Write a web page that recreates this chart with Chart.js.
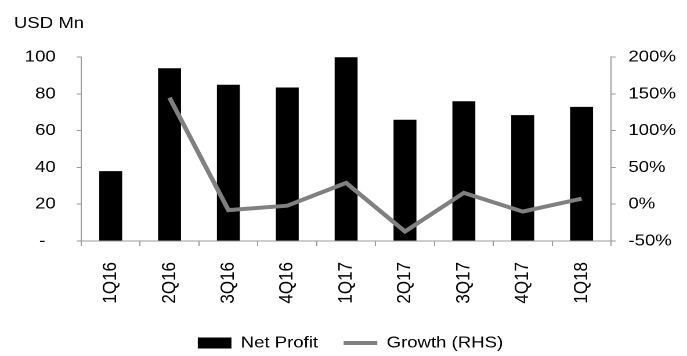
<!DOCTYPE html>
<html>
<head>
<meta charset="utf-8">
<script src="https://cdn.jsdelivr.net/npm/chart.js"></script>
<style>
  html, body { margin: 0; padding: 0; background: #fff; overflow: hidden; }
  /* chart is drawn narrow and widened to the page, which gives the wide lettering */
  #profitChart { display: block; transform: scaleX(1.16047); transform-origin: 0 0; }
</style>
</head>
<body>
<canvas id="profitChart" width="592" height="356"></canvas>
<script>
const quarters = ['1Q16', '2Q16', '3Q16', '4Q16', '1Q17', '2Q17', '3Q17', '4Q17', '1Q18'];
const netProfit = [38, 94, 85, 83.5, 101, 66, 76, 68.5, 73];    // USD Mn
const growth = [null, 145, -8, -2, 29, -37, 15.5, -10, 7.5];    // %, quarter on quarter
const profitTicks = [0, 20, 40, 60, 80, 100];
const growthTicks = [-50, 0, 50, 100, 150, 200];

const axisGrey = '#9a9a9a';
const font = { family: "'Liberation Sans', Arial, sans-serif", size: 16 };

Chart.defaults.font.family = font.family;
Chart.defaults.color = '#000';

new Chart(document.getElementById('profitChart'), {
  data: {
    labels: quarters,
    datasets: [
      {
        type: 'bar',
        label: 'Net Profit',
        data: netProfit,
        backgroundColor: '#000',
        barPercentage: 0.39,
        categoryPercentage: 1,
        yAxisID: 'y',
        pointStyle: 'rect',
        order: 2
      },
      {
        type: 'line',
        label: 'Growth (RHS)',
        data: growth,
        borderColor: '#808080',
        backgroundColor: '#808080',
        borderWidth: 4,
        pointRadius: 0,
        tension: 0,
        yAxisID: 'y1',
        pointStyle: 'line',
        order: 1
      }
    ]
  },
  options: {
    responsive: false,
    devicePixelRatio: 2,
    animation: false,
    layout: { padding: { left: 12, right: 0, top: 0, bottom: -5 } },
    plugins: {
      tooltip: { enabled: false },
      title: {
        display: true,
        text: 'USD Mn',
        align: 'start',
        color: '#000',
        font: { size: 16, weight: 'normal' },
        padding: { top: 14, bottom: 24 }
      },
      legend: {
        position: 'bottom',
        labels: {
          usePointStyle: true,
          pointStyleWidth: 29,
          boxHeight: 11,
          padding: 22,
          color: '#000',
          font: { size: 16 },
          sort: (a, b) => a.datasetIndex - b.datasetIndex
        }
      }
    },
    scales: {
      x: {
        offset: true,
        grid: { display: true, offset: true, drawOnChartArea: false, tickLength: 5, color: axisGrey },
        border: { color: axisGrey },
        ticks: { minRotation: 90, maxRotation: 90, padding: 16, font: { size: 17 }, color: '#000' },
        afterFit: (scale) => { scale.height = 72; }
      },
      y: {
        position: 'left',
        min: 0,
        max: 100,
        afterBuildTicks: (scale) => { scale.ticks = profitTicks.map(v => ({ value: v })); },
        grid: { drawOnChartArea: false, tickLength: 4, color: axisGrey },
        border: { color: axisGrey },
        ticks: {
          padding: 18,
          font: { size: 16 },
          color: '#000',
          callback: (v) => v === 0 ? '-  ' : v
        },
        afterFit: (scale) => { scale.width = 58; }
      },
      y1: {
        position: 'right',
        min: -50,
        max: 200,
        afterBuildTicks: (scale) => { scale.ticks = growthTicks.map(v => ({ value: v })); },
        grid: { drawOnChartArea: false, tickLength: 4, color: axisGrey },
        border: { color: axisGrey },
        ticks: {
          padding: 11,
          font: { size: 16 },
          color: '#000',
          callback: (v) => v + '%'
        },
        afterFit: (scale) => { scale.width = 65.5; }
      }
    }
  }
});
</script>
</body>
</html>
